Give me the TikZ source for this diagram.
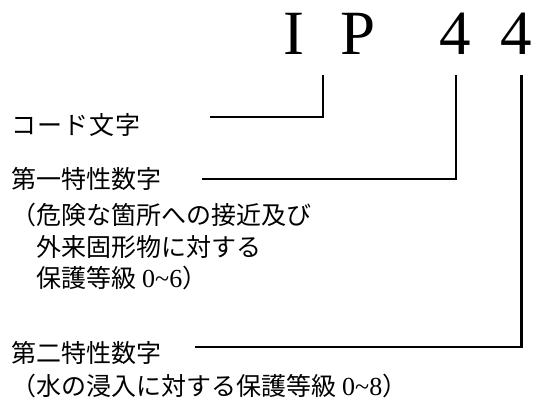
\documentclass[tikz,border=0pt]{standalone}
\usepackage{fontspec}
\setmainfont{Liberation Serif}
\newfontfamily\jp{Noto Sans CJK JP}
\begin{document}
\begin{tikzpicture}[x=1pt,y=-1pt,
  conn/.style={line width=2.2pt, line join=miter},
  lbl/.style={anchor=base west, inner sep=0pt, font=\jp\fontsize{25}{25}\selectfont},
  big/.style={anchor=base, inner sep=0pt, font=\fontsize{63}{63}\selectfont}]
\useasboundingbox (0,0) rectangle (538,403);
\newcommand\latn[1]{{\rmfamily\fontsize{26}{26}\selectfont\hspace{6pt}#1}}
% code letters
\node[big] (I) at (294,55) {I};
\node[big] (P) at (358,55) {P};
\node[big] (d1) at (455,55) {4};
\node[big] (d2) at (516,55) {4};
% labels
\node[lbl] (code) at (11,135) {コ\hspace{1pt}ー\hspace{1pt}ド\hspace{1pt}文\hspace{1pt}字};
\node[lbl] (f1) at (11,189) {第一特性数字};
\node[lbl] (f1a) at (11,225) {（危険な箇所への接近及び};
\node[lbl] (f1b) at (11,257) {　外来固形物に対する};
\node[lbl] (f1c) at (11,288) {　保護等級\latn{0\textasciitilde 6}）};
\node[lbl] (f2) at (11,362) {第二特性数字};
\node[lbl] (f2a) at (11,395) {（水の浸入に対する保護等級\latn{0\textasciitilde 8}）};
% connectors
\coordinate (a1) at (210,116.7);
\coordinate (a2) at (323.3,75);
\coordinate (b1) at (202,179);
\coordinate (b2) at (455.7,75);
\coordinate (c1) at (195,346.7);
\coordinate (c2) at (521.5,75);
\draw[conn] (a1) -| (a2);
\draw[conn] (b1) -| (b2);
\draw[conn] (c1) -| (c2);
\end{tikzpicture}
\end{document}
